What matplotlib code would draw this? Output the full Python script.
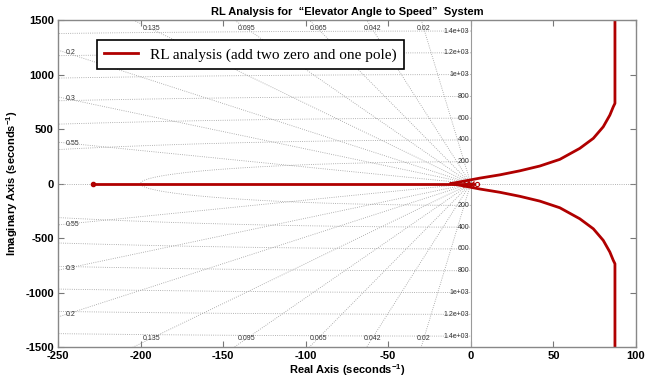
"""
Root locus plot with damping / natural frequency grid.
"""

import numpy as np
import matplotlib.pyplot as plt

# damping ratios and natural frequencies of the grid
zetas = [0.02, 0.042, 0.065, 0.095, 0.135, 0.2, 0.3, 0.55]
top_zetas = [0.02, 0.042, 0.065, 0.095, 0.135]
side_zetas = [0.2, 0.3, 0.55]
wns = [200, 400, 600, 800, 1000, 1200, 1400]
wn_labels = ["200", "400", "600", "800", "1e+03", "1.2e+03", "1.4e+03"]

# locus (upper branch, mirrored for the lower one)
branch_x = [-12, 5.5, 17.6, 29.7, 41.8, 53.9, 66, 74.2, 80.2, 84.2, 86.3,
            87.3, 87.3]
branch_y = [0, 50, 80, 117, 161, 222, 323, 415, 521, 628, 705, 736, 1600]
real_x = [-229, 2]
pole_x = [-229]
origin_poles = [-3, 0]
origin_zeros = [4]

RED = "#b00000"
GRID = "#9a9a9a"
SANS = "Liberation Sans"


def main():
    plt.rcParams["font.family"] = SANS
    plt.rcParams["axes.unicode_minus"] = False
    plt.rcParams["mathtext.fontset"] = "custom"
    plt.rcParams["mathtext.rm"] = SANS
    plt.rcParams["mathtext.bf"] = SANS + ":bold"

    fig = plt.figure(figsize=(6.56, 3.81), dpi=100)
    ax = fig.add_axes([0.0884, 0.0892, 0.881, 0.858])
    ax.set_xlim(-250, 100)
    ax.set_ylim(-1500, 1500)

    # damping lines
    xs = np.linspace(-260, 0, 200)
    for z in zetas:
        k = np.sqrt(1 - z**2) / z
        ax.plot(xs, -k * xs, ls=":", color=GRID, lw=0.6)
        ax.plot(xs, k * xs, ls=":", color=GRID, lw=0.6)
    # natural frequency circles
    th = np.linspace(np.pi / 2, 3 * np.pi / 2, 400)
    for w in wns:
        ax.plot(w * np.cos(th), w * np.sin(th), ls=":", color=GRID, lw=0.6)
    ax.axhline(0, ls=":", color=GRID, lw=0.6)
    ax.plot([0, 0], [-1500, 1500], color=GRID, lw=0.8)

    # labels
    lab = dict(fontsize=5, color="#333333", va="center")
    for z in top_zetas:
        k = np.sqrt(1 - z**2) / z
        ax.text(-1420 / k, 1420, str(z), ha="center", **lab)
        ax.text(-1420 / k, -1420, str(z), ha="center", **lab)
    for z in side_zetas:
        k = np.sqrt(1 - z**2) / z
        ax.text(-245, 245 * k, str(z), ha="left", **lab)
        ax.text(-245, -245 * k, str(z), ha="left", **lab)
    for w, s in zip(wns, wn_labels):
        ax.text(-1, w, s, ha="right", **lab)
        ax.text(-1, -w, s, ha="right", **lab)

    # locus
    ax.plot(real_x, [0, 0], color=RED, lw=2,
            label="RL analysis (add two zero and one pole)")
    ax.plot(branch_x, branch_y, color=RED, lw=2)
    ax.plot(branch_x, [-v for v in branch_y], color=RED, lw=2)
    ax.plot(pole_x, [0], "o", color=RED, ms=3)
    ax.plot(origin_poles, [0, 0], "x", color=RED, ms=4, mew=1)
    ax.plot(origin_zeros, [0], "o", color=RED, ms=3, mfc="none", mew=0.8)

    ax.set_xticks(range(-250, 101, 50))
    ax.set_yticks(range(-1500, 1501, 500))
    ax.tick_params(direction="in", top=True, right=True, labelsize=8,
                   length=4, color="#777777", pad=3)
    for t in ax.get_xticklabels() + ax.get_yticklabels():
        t.set_fontweight("bold")
    for s in ax.spines.values():
        s.set_color("#888888")
        s.set_linewidth(1)

    ax.set_title("RL Analysis for  \u201cElevator Angle to Speed\u201d  System",
                 fontsize=8, fontweight="bold", pad=4)
    ax.set_xlabel("Real Axis (seconds$^{\\mathbf{-1}}$)", fontsize=8,
                  fontweight="bold", labelpad=1)
    ax.set_ylabel("Imaginary Axis (seconds$^{\\mathbf{-1}}$)", fontsize=8,
                  fontweight="bold")
    ax.yaxis.set_label_coords(-0.066, 0.5)

    leg = ax.legend(loc="upper left", bbox_to_anchor=(0.067, 0.939),
                    borderaxespad=0,
                    prop={"family": "Liberation Serif", "size": 11},
                    fancybox=False, framealpha=1, edgecolor="black",
                    handlelength=2.2, borderpad=0.5)
    leg.get_frame().set_linewidth(1.2)

    fig.savefig("out.png", dpi=100)


if __name__ == "__main__":
    main()
